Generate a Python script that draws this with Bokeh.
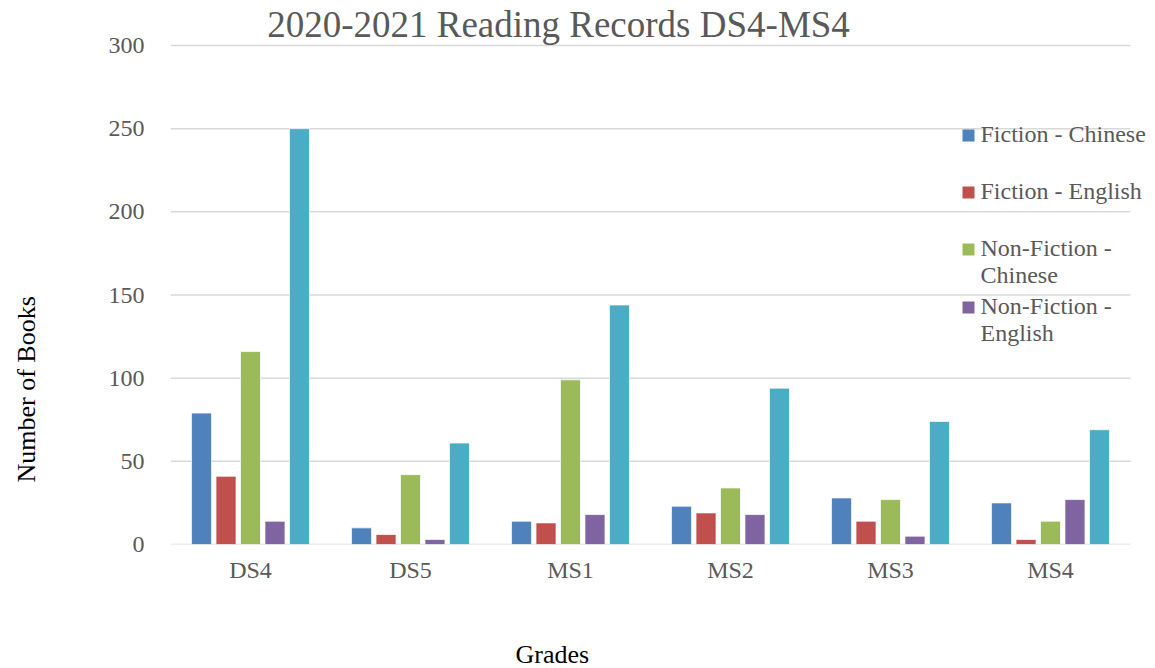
import math
from bokeh.plotting import figure
from bokeh.models import ColumnDataSource, Range1d, Label, FixedTicker, Title
from bokeh.transform import dodge
from bokeh.embed import file_html
from bokeh.resources import INLINE

grades = ["DS4", "DS5", "MS1", "MS2", "MS3", "MS4"]
fiction_chinese = [79, 10, 14, 23, 28, 25]
fiction_english = [41, 6, 13, 19, 14, 3]
nonfiction_chinese = [116, 42, 99, 34, 27, 14]
nonfiction_english = [14, 3, 18, 18, 5, 27]
total = [250, 61, 144, 94, 74, 69]

series_names = ["Fiction - Chinese", "Fiction - English", "Non-Fiction -\nChinese",
                "Non-Fiction -\nEnglish", "Total"]
series_keys = ["fc", "fe", "nc", "ne", "tot"]
colors = ["#4F81BD", "#C0504D", "#9BBB59", "#8064A2", "#4BACC6"]
title_text = "2020-2021 Reading Records DS4-MS4"
y_ticks = [0, 50, 100, 150, 200, 250, 300]

n = len(grades)
xpos = [i + 0.5 for i in range(n)]
src = ColumnDataSource(dict(x=xpos, grade=grades, fc=fiction_chinese, fe=fiction_english,
                            nc=nonfiction_chinese, ne=nonfiction_english, tot=total))

FONT = "Liberation Serif"
# layout (page pixels): frame spans x 170..1150, y 0..544 ; categories end at x 1130
W, H = 1150, 668
FL, FB = 170, 544
PXU_X = 160.0            # pixels per category
PXU_Y = 499.0 / 300.0    # pixels per book

p = figure(width=W, height=H,
           x_range=Range1d(0, (W - FL) / PXU_X),
           y_range=Range1d(0, FB / PXU_Y),
           output_backend="svg", toolbar_location=None,
           min_border_left=FL, min_border_right=0, min_border_top=0,
           min_border_bottom=H - FB)
p.outline_line_color = None
p.background_fill_color = "white"
p.xgrid.grid_line_color = None
p.ygrid.grid_line_color = None

# horizontal gridlines across the category area only
p.segment(x0=[0] * len(y_ticks), x1=[n] * len(y_ticks), y0=y_ticks, y1=y_ticks,
          line_color="#d9d9d9", line_width=1.5)

offsets = [-0.306, -0.153, 0.0, 0.153, 0.306]
for key, col, off in zip(series_keys, colors, offsets):
    p.vbar(x=dodge("x", off), top=key, width=0.125, source=src,
           fill_color=col, line_color="white", line_width=1, line_alpha=0.7)

p.yaxis.ticker = FixedTicker(ticks=y_ticks)
p.yaxis.axis_line_color = None
p.yaxis.major_tick_line_color = None
p.yaxis.minor_tick_line_color = None
p.yaxis.major_label_standoff = 20
p.yaxis.major_label_text_font = FONT
p.yaxis.major_label_text_font_size = "24px"
p.yaxis.major_label_text_color = "#595959"

p.xaxis.ticker = FixedTicker(ticks=xpos)
p.xaxis.major_label_overrides = {x: g for x, g in zip(xpos, grades)}
p.xaxis.axis_line_color = None
p.xaxis.major_tick_line_color = None
p.xaxis.minor_tick_line_color = None
p.xaxis.major_label_standoff = 6
p.xaxis.major_label_text_font = FONT
p.xaxis.major_label_text_font_size = "24px"
p.xaxis.major_label_text_color = "#595959"

# axis titles (off-centre, as in the reference); blank spacer titles push them outward
def side_title(text, side, offset, standoff, color="black"):
    p.add_layout(Title(text=text, align="left", offset=offset, standoff=standoff,
                       vertical_align="bottom", text_font=FONT, text_font_size="26px",
                       text_color=color, text_font_style="normal"), side)

side_title(" ", "below", 0, 21)
side_title("Grades", "below", 345, 0)
side_title(" ", "left", 0, 34)
side_title("Number of Books", "left", 62, 0)

def dx(px):
    return (px - FL) / PXU_X

def dy(py):
    return (FB - py) / PXU_Y

def add_label(text, px, py, size, color, align="center"):
    p.add_layout(Label(x=dx(px), y=dy(py), text=text, text_font=FONT,
                       text_font_size=size, text_color=color, text_align=align,
                       text_baseline="middle"))

add_label(title_text, 558, 24, "37px", "#595959")

# legend (first four series, as shown in the reference)
leg_rows = [135, 192, 249, 307]
for name, col, ry in zip(series_names[:4], colors[:4], leg_rows):
    p.scatter(x=[dx(968)], y=[dy(ry)], marker="square", size=12, fill_color=col,
              line_color=None)
    for i, line in enumerate(name.split("\n")):
        add_label(line, 980, ry - 2 + i * 27, "24px", "#595959", align="left")

open("out.html", "w").write(file_html(p, INLINE))
